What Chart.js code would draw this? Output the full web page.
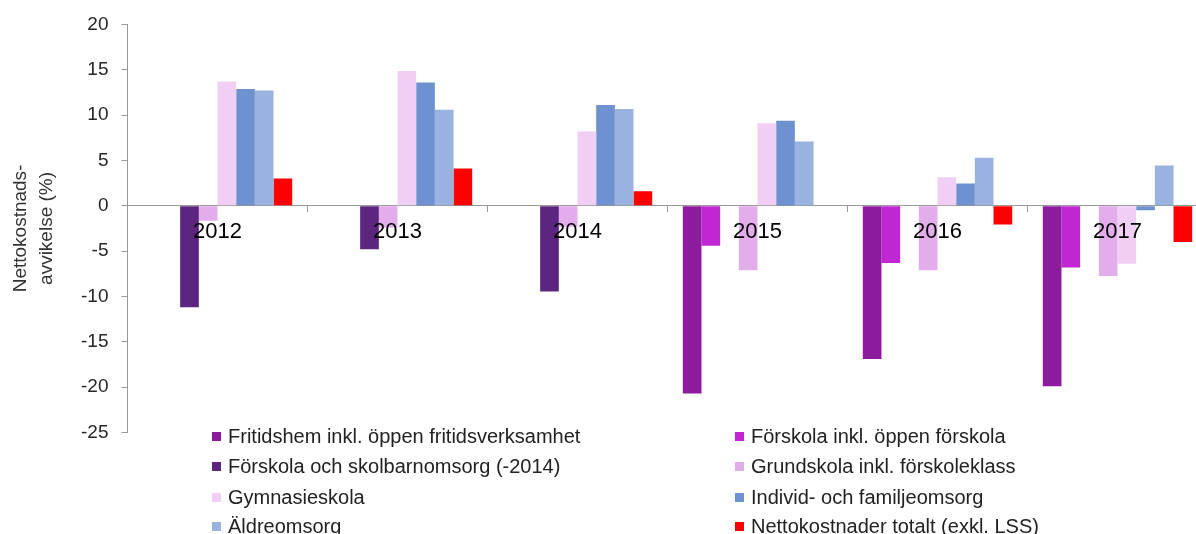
<!DOCTYPE html>
<html>
<head>
<meta charset="utf-8">
<script src="https://cdn.jsdelivr.net/npm/chart.js@4.4.1/dist/chart.umd.min.js"></script>
<style>
  html, body { margin: 0; padding: 0; background: #fff; overflow: hidden; width: 1196px; height: 534px; }
  #wrap { position: relative; width: 1215px; height: 534px; }
  #legend { position: absolute; left: 0; top: 0; width: 1215px; height: 534px; pointer-events: none;
            font-family: "Liberation Sans", Arial, sans-serif; font-size: 20px; color: #222; }
  .li { position: absolute; white-space: nowrap; line-height: 24px; height: 24px; }
  .sw { position: absolute; top: 8px; width: 9px; height: 9px; }
  .tx { position: absolute; left: 16px; top: 0; }
</style>
</head>
<body>
<div id="wrap">
  <canvas id="c" width="1215" height="534"></canvas>
  <div id="legend"></div>
</div>
<script>
const categories = ['2012', '2013', '2014', '2015', '2016', '2017'];

const seriesNames = [
  'Fritidshem inkl. öppen fritidsverksamhet',
  'Förskola inkl. öppen förskola',
  'Förskola och skolbarnomsorg (-2014)',
  'Grundskola inkl. förskoleklass',
  'Gymnasieskola',
  'Individ- och familjeomsorg',
  'Äldreomsorg',
  'Nettokostnader totalt (exkl. LSS)'
];

const fritidshem       = [null, null, null, -20.7, -16.9, -19.9];
const forskolaInkl     = [null, null, null, -4.4, -6.3, -6.8];
const forskolaSkolbarn = [-11.2, -4.8, -9.45, null, null, null];
const grundskola       = [-1.65, -2.4, -2.3, -7.1, -7.1, -7.75];
const gymnasieskola    = [13.7, 14.85, 8.2, 9.1, 3.15, -6.4];
const individFamilj    = [12.87, 13.6, 11.1, 9.37, 2.46, -0.5];
const aldreomsorg      = [12.7, 10.6, 10.66, 7.1, 5.3, 4.44];
const nettoTotalt      = [3.0, 4.1, 1.6, null, -2.06, -4.0];

const yMin = -25, yMax = 20, yStep = 5;

const seriesValues = [fritidshem, forskolaInkl, forskolaSkolbarn, grundskola,
                      gymnasieskola, individFamilj, aldreomsorg, nettoTotalt];
const seriesColors = ['#8D1B9E', '#BF27D2', '#5C2580', '#E3ADEC',
                      '#F1CFF5', '#6E91CF', '#99B2DF', '#FF0000'];

const datasets = seriesNames.map((name, i) => ({
  label: name,
  data: seriesValues[i],
  backgroundColor: seriesColors[i],
  borderWidth: 0,
  categoryPercentage: 0.83,
  barPercentage: 1.0
}));

const chart = new Chart(document.getElementById('c'), {
  type: 'bar',
  data: { labels: categories, datasets },
  options: {
    responsive: false,
    animation: false,
    devicePixelRatio: 1,
    layout: { padding: { left: 0, right: 7.5, top: 24, bottom: 101.5 } },
    plugins: { legend: { display: false }, tooltip: { enabled: false } },
    scales: {
      x: {
        position: { y: 0 },
        grid: { display: true, drawOnChartArea: false, drawTicks: true, tickLength: 6, color: '#999', offset: true },
        border: { display: true, color: '#999', width: 1 },
        ticks: { color: '#000', padding: 7, z: 1, maxRotation: 0,
                 font: { family: 'Liberation Sans', size: 22 } }
      },
      y: {
        min: yMin, max: yMax,
        afterFit: (s) => { s.width = 127.5; },
        grid: { display: true, drawOnChartArea: false, drawTicks: true, tickLength: 6, color: '#999' },
        border: { display: true, color: '#999', width: 1 },
        ticks: { stepSize: yStep, color: '#262626', padding: 13,
                 font: { family: 'Liberation Sans', size: 19 } },
        title: {
          display: true,
          text: ['Nettokostnads-', 'avvikelse (%)'],
          color: '#333',
          font: { family: 'Liberation Sans', size: 19, lineHeight: 1.37 },
          padding: { top: 8, bottom: 0 }
        }
      }
    }
  }
});

// HTML legend in two columns built from the chart's datasets
const legend = document.getElementById('legend');
const colX = [212, 735];
const rowY = [424, 454, 484.5, 514];
chart.data.datasets.forEach((ds, i) => {
  const item = document.createElement('div');
  item.className = 'li';
  item.style.left = colX[i % 2] + 'px';
  item.style.top = rowY[Math.floor(i / 2)] + 'px';
  const sw = document.createElement('span');
  sw.className = 'sw';
  sw.style.background = ds.backgroundColor;
  const tx = document.createElement('span');
  tx.className = 'tx';
  tx.textContent = ds.label;
  item.appendChild(sw);
  item.appendChild(tx);
  legend.appendChild(item);
});
</script>
</body>
</html>
